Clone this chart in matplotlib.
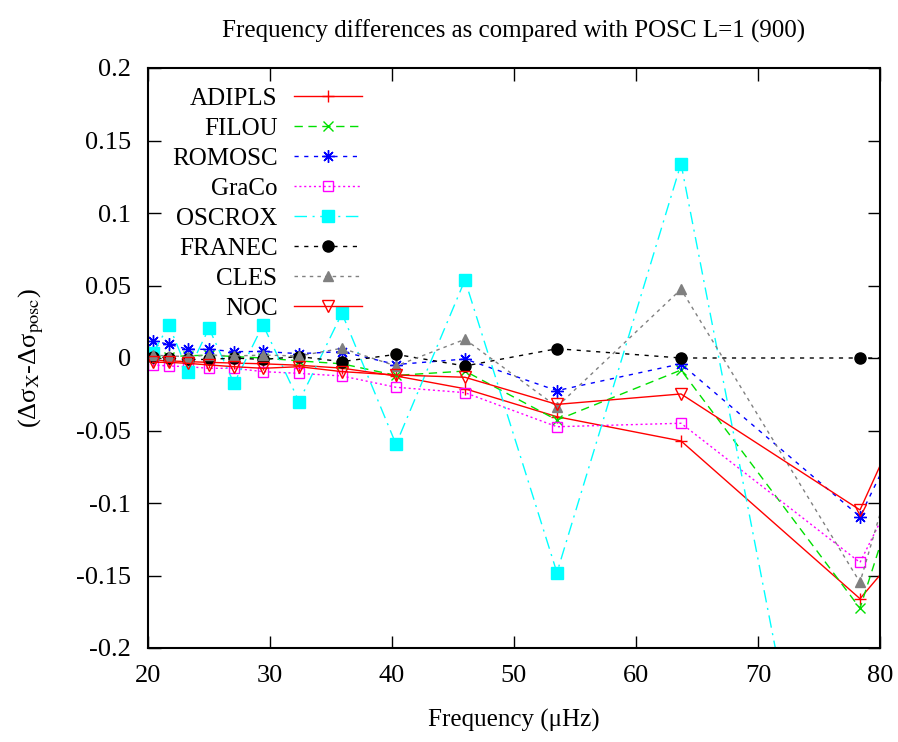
import matplotlib
matplotlib.use("Agg")
import matplotlib.pyplot as plt

plt.rcParams['font.family'] = ['Liberation Serif', 'DejaVu Serif']
plt.rcParams['mathtext.fontset'] = 'stix'

# frequencies (muHz); last point lies beyond the x range
freq = [20.38, 21.72, 23.28, 25.0, 27.05, 29.43, 32.38, 35.9, 40.33, 45.98, 53.52, 63.69, 78.36, 99.0]

adipls = [-0.0015, -0.002, -0.0025, -0.003, -0.0035, -0.004, -0.005, -0.007, -0.0124, -0.0212, -0.0405, -0.0572, -0.166, 0.039]
filou = [0.0005, 0.001, 0.0015, 0.002, 0.001, 0.0, -0.002, -0.004, -0.012, -0.009, -0.0428, -0.0083, -0.1726, 0.37]
romosc = [0.0119, 0.0094, 0.006, 0.006, 0.0044, 0.0045, 0.003, 0.0044, -0.0045, -0.0007, -0.0225, -0.004, -0.1094, 0.25]
graco = [-0.0048, -0.0055, -0.006, -0.0071, -0.0071, -0.0094, -0.0106, -0.0124, -0.0202, -0.0239, -0.0474, -0.045, -0.141, 0.208]
oscrox = [0.0034, 0.0225, -0.0094, 0.0205, -0.0175, 0.0228, -0.030, 0.0308, -0.0595, 0.0538, -0.148, 0.134, -0.50, -0.3]
franec = [0.001, 0.0, -0.001, -0.001, 0.0, -0.001, 0.001, -0.0025, 0.0025, -0.0055, 0.0064, 0.0, 0.0, 0.0]
cles = [0.002, 0.0014, 0.001, 0.002, 0.0014, 0.002, 0.0014, 0.0067, -0.0055, 0.0129, -0.0336, 0.0474, -0.1547, 0.437]
noc = [-0.003, -0.003, -0.0037, -0.0048, -0.006, -0.0071, -0.006, -0.0094, -0.0117, -0.0133, -0.032, -0.0248, -0.1048, 0.278]

xticks = [20, 30, 40, 50, 60, 70, 80]
yticks = [-0.2, -0.15, -0.1, -0.05, 0, 0.05, 0.1, 0.15, 0.2]
ytick_labels = ['-0.2', '-0.15', '-0.1', '-0.05', '0', '0.05', '0.1', '0.15', '0.2']

fig = plt.figure(figsize=(8.98, 7.42), dpi=100)
ax = fig.add_axes([148 / 898, 94 / 742, 732 / 898, 580 / 742])

lw = 1.0
ms = 7
ax.plot(freq, adipls, color='#ff0000', ls='-', lw=lw, marker='+', ms=ms + 2, mew=1, label='ADIPLS')
ax.plot(freq, filou, color='#00e000', ls=(0, (6, 4)), lw=lw, marker='x', ms=ms, mew=1, label='FILOU')
ax.plot(freq, romosc, color='#0000ff', ls=(0, (3, 4)), lw=lw, marker=(8, 2, 0), ms=ms + 2, mew=1, label='ROMOSC')
ax.plot(freq, graco, color='#ff00ff', ls=(0, (1.5, 2)), lw=lw, marker='s', ms=ms, mfc='none', mew=1, label='GraCo')
ax.plot(freq, oscrox, color='#00ffff', ls=(0, (9, 4, 1.5, 4)), lw=lw, marker='s', ms=ms + 1, label='OSCROX')
ax.plot(freq, franec, color='#000000', ls=(0, (3, 4)), lw=lw, marker='o', ms=ms + 1, label='FRANEC')
ax.plot(freq, cles, color='#808080', ls=(0, (2.5, 3)), lw=lw, marker='^', ms=ms, label='CLES')
ax.plot(freq, noc, color='#ff0000', ls='-', lw=lw, marker='v', ms=ms + 1, mfc='none', mew=1, label='NOC')

ax.set_xlim(20, 80)
ax.set_ylim(-0.2, 0.2)
ax.set_xticks(xticks)
ax.set_yticks(yticks)
ax.set_yticklabels(ytick_labels)
ax.tick_params(direction='in', length=9, width=1, top=True, right=True, labelsize=19, pad=12)
for s in ax.spines.values():
    s.set_linewidth(1.5)

ax.set_title('Frequency differences as compared with POSC L=1 (900)', fontsize=18, pad=22)
ax.set_xlabel('Frequency (\u03bcHz)', fontsize=18, labelpad=16)
ax.set_ylabel('(\u0394\u03c3$_{\\rm X}$-\u0394\u03c3$_{\\rm posc}$)', fontsize=19, labelpad=22)

ax.legend(loc='upper right', bbox_to_anchor=(0.293, 0.966), frameon=False, markerfirst=False,
          fontsize=18, handlelength=2.75, handletextpad=0.65, labelspacing=0.3,
          borderpad=0, borderaxespad=0)

fig.savefig('out.png', dpi=100)
